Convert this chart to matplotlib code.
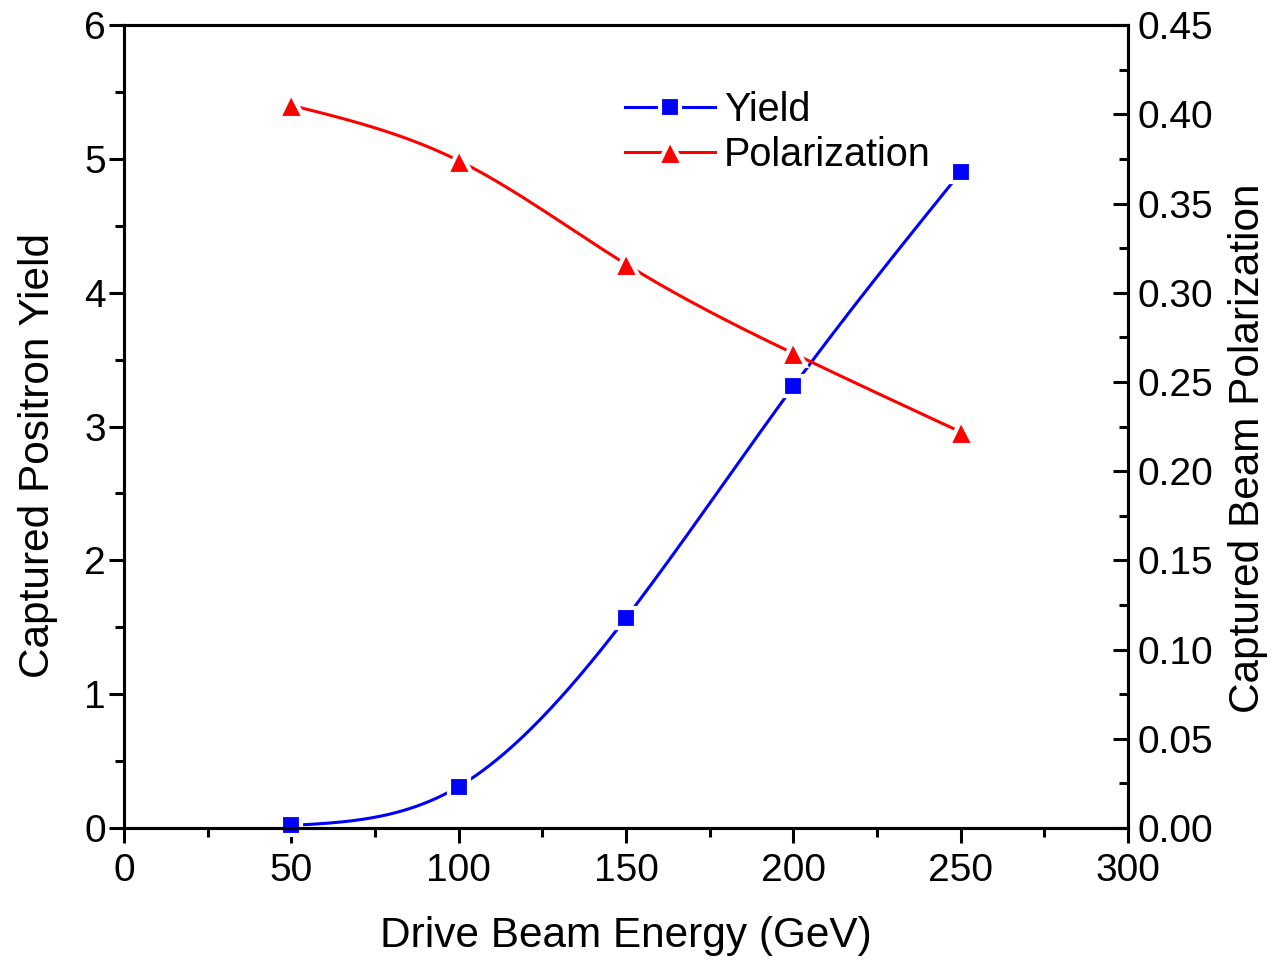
import numpy as np
import matplotlib.pyplot as plt
from matplotlib.ticker import MultipleLocator, FormatStrFormatter

plt.rcParams['font.family'] = ['Liberation Sans', 'DejaVu Sans']

energy = [50, 100, 150, 200, 250]
yield_vals = [0.02, 0.31, 1.57, 3.30, 4.90]
polarization = [0.405, 0.374, 0.316, 0.266, 0.222]


def natural_spline(x, y, n=200):
    # plain natural cubic spline, just for drawing the smooth connecting line
    x = np.asarray(x, float)
    y = np.asarray(y, float)
    k = len(x)
    h = np.diff(x)
    A = np.zeros((k, k))
    b = np.zeros(k)
    A[0, 0] = 1
    A[-1, -1] = 1
    for i in range(1, k - 1):
        A[i, i - 1] = h[i - 1]
        A[i, i] = 2 * (h[i - 1] + h[i])
        A[i, i + 1] = h[i]
        b[i] = 6 * ((y[i + 1] - y[i]) / h[i] - (y[i] - y[i - 1]) / h[i - 1])
    m = np.linalg.solve(A, b)
    xs = np.linspace(x[0], x[-1], n)
    idx = np.clip(np.searchsorted(x, xs) - 1, 0, k - 2)
    x0, x1 = x[idx], x[idx + 1]
    hh = x1 - x0
    t0, t1 = x1 - xs, xs - x0
    ys = (m[idx] * t0**3 + m[idx + 1] * t1**3) / (6 * hh) \
        + (y[idx] / hh - m[idx] * hh / 6) * t0 \
        + (y[idx + 1] / hh - m[idx + 1] * hh / 6) * t1
    return xs, ys


fig = plt.figure(figsize=(12.76, 9.64), dpi=100)
ax1 = fig.add_axes([0.0972, 0.141, 0.7868, 0.833])
ax2 = ax1.twinx()

lw = 2.2
blue, red = '#0000ff', '#ff0000'
xs, ys = natural_spline(energy, yield_vals)
ax1.plot(xs, ys, color=blue, lw=lw, zorder=2)
ax1.plot(energy, yield_vals, 's', color=blue, ms=14, mec='white', mew=3,
         clip_on=False, zorder=2.2)

xs, ps = natural_spline(energy, polarization)
ax2.plot(xs, ps, color=red, lw=lw, zorder=2)
ax2.plot(energy, polarization, '^', color=red, ms=18, mec='white', mew=3, zorder=2.2)

ax1.set_xlim(0, 300)
ax1.set_ylim(0, 6)
ax2.set_ylim(0, 0.45)

ax1.xaxis.set_major_locator(MultipleLocator(50))
ax1.xaxis.set_minor_locator(MultipleLocator(25))
ax1.yaxis.set_major_locator(MultipleLocator(1))
ax1.yaxis.set_minor_locator(MultipleLocator(0.5))
ax2.yaxis.set_major_locator(MultipleLocator(0.05))
ax2.yaxis.set_minor_locator(MultipleLocator(0.025))
ax2.yaxis.set_major_formatter(FormatStrFormatter('%.2f'))

for ax in (ax1, ax2):
    for s in ax.spines.values():
        s.set_linewidth(2.2)
ax1.tick_params(which='both', direction='out', width=2.2, labelsize=28)
ax1.tick_params(which='major', length=11)
ax1.tick_params(which='minor', length=6.5)
ax1.tick_params(axis='y', pad=2)
ax1.tick_params(axis='x', pad=7)
ax2.tick_params(which='both', direction='in', width=2.2, labelsize=28, pad=7)
ax2.tick_params(which='major', length=11)
ax2.tick_params(which='minor', length=6.5)

ax1.set_xlabel('Drive Beam Energy (GeV)', fontsize=30.5)
ax1.set_ylabel('Captured Positron Yield', fontsize=30.5)
ax2.set_ylabel('Captured Beam Polarization', fontsize=30.5)
ax1.xaxis.set_label_coords(0.5, -0.11)
ax1.yaxis.set_label_coords(-0.066, 0.464)
ax2.yaxis.set_label_coords(1.10, 0.473)

h1 = plt.Line2D([], [], color=blue, lw=lw, marker='s', ms=14, mec='white', mew=3)
h2 = plt.Line2D([], [], color=red, lw=lw, marker='^', ms=18, mec='white', mew=3)
ax2.legend([h1, h2], ['Yield', 'Polarization'], loc='upper left',
           bbox_to_anchor=(0.499, 0.918), frameon=False, fontsize=28.5,
           handlelength=2.27, handletextpad=0.23, labelspacing=0.17,
           borderaxespad=0, borderpad=0, numpoints=1)

fig.savefig('out.png', dpi=100)
